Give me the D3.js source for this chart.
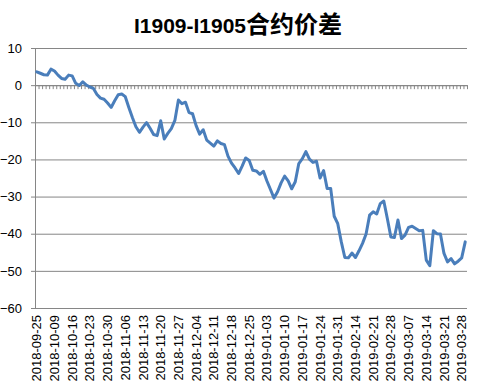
<!DOCTYPE html>
<html>
<head>
<meta charset="utf-8">
<script src="https://cdnjs.cloudflare.com/ajax/libs/d3/7.8.5/d3.min.js"></script>
<style>
  body { margin: 0; background: #fff; }
  text { font-family: "Liberation Sans", Arial, sans-serif; }
</style>
</head>
<body>
<script>

// trading days on the category axis
let dates = [
    "2018-09-25","2018-09-26","2018-09-27","2018-09-28",
    "2018-10-08","2018-10-09","2018-10-10","2018-10-11","2018-10-12",
    "2018-10-15","2018-10-16","2018-10-17","2018-10-18","2018-10-19",
    "2018-10-22","2018-10-23","2018-10-24","2018-10-25","2018-10-26",
    "2018-10-29","2018-10-30","2018-10-31","2018-11-01","2018-11-02",
    "2018-11-05","2018-11-06","2018-11-07","2018-11-08","2018-11-09",
    "2018-11-12","2018-11-13","2018-11-14","2018-11-15","2018-11-16",
    "2018-11-19","2018-11-20","2018-11-21","2018-11-22","2018-11-23",
    "2018-11-26","2018-11-27","2018-11-28","2018-11-29","2018-11-30",
    "2018-12-03","2018-12-04","2018-12-05","2018-12-06","2018-12-07",
    "2018-12-10","2018-12-11","2018-12-12","2018-12-13","2018-12-14",
    "2018-12-17","2018-12-18","2018-12-19","2018-12-20","2018-12-21",
    "2018-12-24","2018-12-25","2018-12-26","2018-12-27","2018-12-28",
    "2019-01-02","2019-01-03","2019-01-04",
    "2019-01-07","2019-01-08","2019-01-09","2019-01-10","2019-01-11",
    "2019-01-14","2019-01-15","2019-01-16","2019-01-17","2019-01-18",
    "2019-01-21","2019-01-22","2019-01-23","2019-01-24","2019-01-25",
    "2019-01-28","2019-01-29","2019-01-30","2019-01-31","2019-02-01",
    "2019-02-11","2019-02-12","2019-02-13","2019-02-14","2019-02-15",
    "2019-02-18","2019-02-19","2019-02-20","2019-02-21","2019-02-22",
    "2019-02-25","2019-02-26","2019-02-27","2019-02-28","2019-03-01",
    "2019-03-04","2019-03-05","2019-03-06","2019-03-07","2019-03-08",
    "2019-03-11","2019-03-12","2019-03-13","2019-03-14","2019-03-15",
    "2019-03-18","2019-03-19","2019-03-20","2019-03-21","2019-03-22",
    "2019-03-25","2019-03-26","2019-03-27","2019-03-28","2019-03-29"
]

// I1909 - I1905 spread
let spread = [
    3.6, 3.2, 2.8, 2.7, 4.3, 3.8, 2.7, 1.8, 1.6, 2.7,
    2.5, 0.5, -0.1, 0.9, 0.0, -0.5, -0.9, -2.5, -3.5, -3.8,
    -4.8, -6.0, -4.2, -2.6, -2.4, -3.1, -6.0, -8.7, -11.2, -12.7,
    -11.3, -10.1, -11.6, -13.3, -13.6, -9.6, -14.5, -13.0, -11.7, -9.5,
    -4.0, -5.0, -4.6, -7.4, -7.7, -10.9, -13.2, -12.0, -14.8, -15.6,
    -16.4, -15.0, -15.7, -16.0, -19.1, -21.0, -22.3, -23.8, -21.8, -19.6,
    -20.3, -22.9, -23.1, -24.0, -23.2, -25.8, -28.1, -30.4, -28.7, -26.3,
    -24.5, -25.8, -27.9, -26.0, -21.1, -19.8, -17.9, -19.9, -20.8, -20.5,
    -25.0, -23.0, -27.8, -27.8, -35.3, -37.3, -42.2, -46.4, -46.5, -45.2,
    -46.4, -44.6, -42.6, -40.1, -35.0, -34.1, -34.7, -31.9, -31.2, -35.9,
    -40.9, -41.0, -36.3, -41.3, -40.4, -38.3, -38.0, -38.6, -39.2, -39.1,
    -47.1, -48.6, -39.2, -40.0, -40.1, -45.3, -47.6, -46.7, -48.1, -47.4,
    -46.5, -42.2
]

let yTicks = [10, 0, -10, -20, -30, -40, -50, -60]

// labels every fifth trading day
let labelDates = dates.filter((d, i) => i % 5 === 0)

let width = 479
let height = 390
let plotLeft = 35
let plotRight = 467
let plotTop = 48
let plotBottom = 308

let gridColor = '#868686'
let lineColor = '#4a7ebb'

let svg = d3.select('body')
            .append('svg')
            .attr('width', width)
            .attr('height', height)

svg.append('text')
    .attr('x', 238)
    .attr('y', 33)
    .attr('text-anchor', 'middle')
    .style('font-weight', 'bold')
    .style('font-size', '21px')
    .call(t => {
        t.append('tspan').text('I1909-I1905')
        t.append('tspan')
            .style('font-family', '"Noto Sans CJK SC", sans-serif')
            .style('font-size', '24px')
            .text('合约价差')
    })

let xScale = d3.scaleBand()
                .domain(dates)
                .range([plotLeft, plotRight])

let indexScale = d3.scaleLinear()
                .domain([0, dates.length])
                .range([plotLeft, plotRight])

let yScale = d3.scaleLinear()
                .domain([-60, 10])
                .range([plotBottom, plotTop])

// horizontal gridlines
svg.append('g')
    .attr('transform', 'translate(' + plotLeft + ',0)')
    .call(d3.axisLeft(yScale).tickValues(yTicks).tickSize(-(plotRight - plotLeft)).tickFormat(''))
    .call(g => g.select('.domain').remove())
    .selectAll('line')
    .attr('stroke', gridColor)

// y axis with labels
let yAxis = svg.append('g')
    .attr('transform', 'translate(' + plotLeft + ',0)')
    .call(d3.axisLeft(yScale).tickValues(yTicks).tickSize(4).tickSizeOuter(0).tickPadding(9))
yAxis.select('.domain').attr('stroke', gridColor)
yAxis.selectAll('line').attr('stroke', gridColor)
yAxis.selectAll('text')
    .style('font-size', '13px')
    .attr('fill', '#000')

// category axis drawn at zero, ticks between categories
let zeroAxis = svg.append('g')
    .attr('transform', 'translate(0,' + yScale(0) + ')')
    .call(d3.axisBottom(indexScale).tickValues(d3.range(dates.length + 1)).tickSize(4).tickSizeOuter(0).tickFormat(''))
zeroAxis.select('.domain').attr('stroke', gridColor)
zeroAxis.selectAll('line').attr('stroke', gridColor)

// category labels at the bottom
let xLabels = svg.append('g')
    .attr('transform', 'translate(0,' + plotBottom + ')')
    .call(d3.axisBottom(xScale).tickValues(labelDates).tickSize(0))
xLabels.select('.domain').remove()
xLabels.selectAll('text')
    .attr('transform', 'rotate(-90)')
    .attr('x', -7)
    .attr('y', 0)
    .attr('dy', '0.35em')
    .style('text-anchor', 'end')
    .style('font-size', '13px')
    .attr('fill', '#000')

let line = d3.line()
            .x((d, i) => xScale(dates[i]) + xScale.bandwidth() / 2)
            .y(d => yScale(d))

svg.append('path')
    .datum(spread)
    .attr('d', line)
    .attr('fill', 'none')
    .attr('stroke', lineColor)
    .attr('stroke-width', 3)
    .attr('stroke-linejoin', 'round')
    .attr('stroke-linecap', 'round')

</script>
</body>
</html>
